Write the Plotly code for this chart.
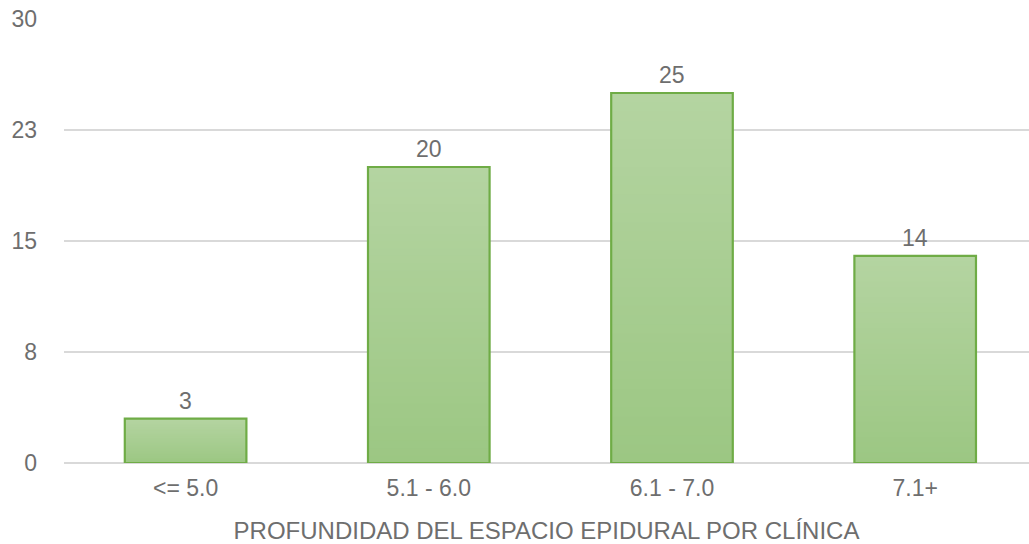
import plotly.graph_objects as go

categories = ["<= 5.0", "5.1 - 6.0", "6.1 - 7.0", "7.1+"]
values = [3, 20, 25, 14]
tick_vals = [0, 7.5, 15, 22.5, 30]
tick_text = ["0", "8", "15", "23", "30"]
x_title = "PROFUNDIDAD DEL ESPACIO EPIDURAL POR CLÍNICA"

TOP = (180, 212, 161)
BOTTOM = (156, 199, 131)
BORDER = "#6FAC46"
TEXT = "#6e6e6e"
FONT = "Liberation Sans, Arial, sans-serif"
N = 40
BARW = 0.5

fig = go.Figure()
# gradient fill: overlapping layers, each from its level up to the bar top
for k in range(N):
    t = k / (N - 1)
    c = tuple(round(BOTTOM[i] + (TOP[i] - BOTTOM[i]) * t) for i in range(3))
    fig.add_trace(go.Bar(
        x=categories,
        y=[v * (N - k) / N for v in values],
        base=[v * k / N for v in values],
        marker=dict(color="rgb(%d,%d,%d)" % c, line=dict(width=0)),
        width=BARW, hoverinfo="skip", showlegend=False,
    ))
# outline
fig.add_trace(go.Bar(
    x=categories, y=values, width=BARW,
    marker=dict(color="rgba(0,0,0,0)", line=dict(color=BORDER, width=2.2)),
    showlegend=False,
))
for c, v in zip(categories, values):
    fig.add_annotation(x=c, y=v, text=str(v), showarrow=False,
                       yanchor="bottom", yshift=3,
                       font=dict(family=FONT, size=23, color=TEXT))

fig.update_layout(
    width=1029, height=544,
    margin=dict(l=64, r=0, t=19, b=81),
    paper_bgcolor="white", plot_bgcolor="white",
    barmode="overlay",
    font=dict(family=FONT, color=TEXT, size=23),
    xaxis=dict(range=[-0.5, 3.468], showgrid=False, showline=False,
               ticks="", ticklabelstandoff=9, tickfont=dict(size=23, color=TEXT),
               title=dict(text=x_title, font=dict(size=24, color=TEXT), standoff=22)),
    yaxis=dict(range=[0, 30], tickvals=tick_vals, ticktext=tick_text,
               showgrid=True, gridcolor="#d9d9d9", gridwidth=2,
               zeroline=True, zerolinecolor="#d9d9d9", zerolinewidth=2,
               showline=False, ticks="", ticklabelstandoff=26,
               tickfont=dict(size=23, color=TEXT)),
)
fig.write_html("out.html")
